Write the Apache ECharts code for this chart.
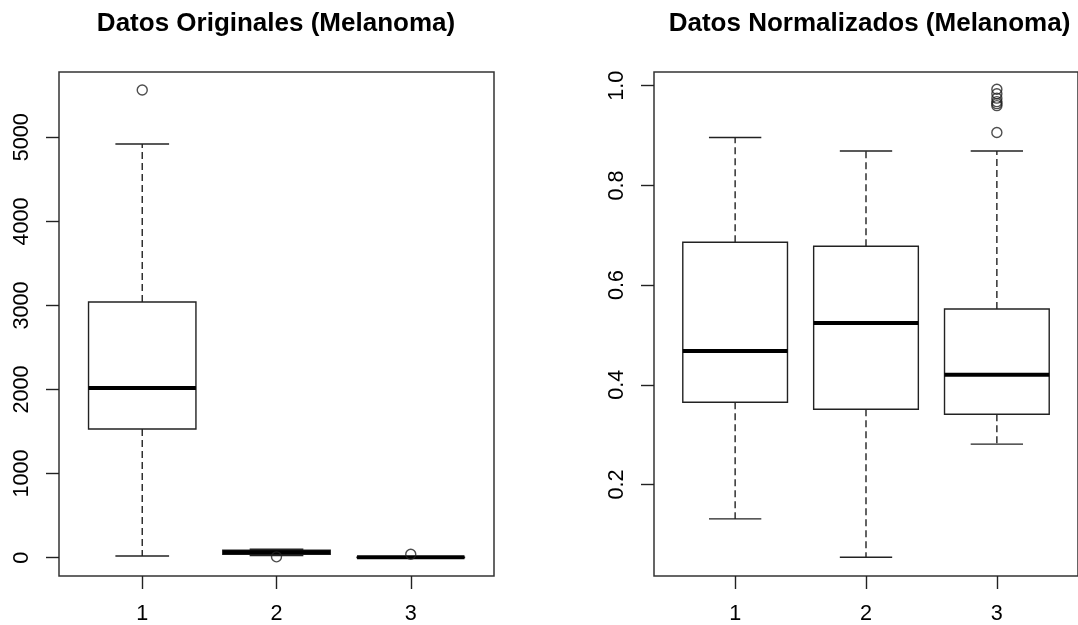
<!DOCTYPE html>
<html>
<head>
<meta charset="utf-8">
<title>Datos Melanoma</title>
<script src="https://cdn.jsdelivr.net/npm/echarts@6/dist/echarts.min.js"></script>
<style>
  html, body { margin: 0; padding: 0; background: #fff; }
  #chart { width: 1078px; height: 625px; }
</style>
</head>
<body>
<div id="chart"></div>
<script>
// Group labels on the x axis
const categories = ['1', '2', '3'];

// Box statistics per group: [lower whisker, Q1, median, Q3, upper whisker]
const originalStats = [
  [20, 1531, 2019, 3041, 4920],
  [25, 40, 64, 88, 100],
  [0, 2, 4, 6, 12]
];
// Outliers: [group, value]
const originalOutliers = [[1, 5563], [2, 10], [3, 40]];

const normalizedStats = [
  [0.131, 0.365, 0.468, 0.686, 0.896],
  [0.054, 0.351, 0.524, 0.678, 0.869],
  [0.281, 0.341, 0.420, 0.552, 0.869]
];
const normalizedOutliers = [
  [3, 0.993], [3, 0.984], [3, 0.975], [3, 0.968],
  [3, 0.964], [3, 0.960], [3, 0.906]
];

// Tick labels
const originalTicks = [0, 1000, 2000, 3000, 4000, 5000];
const normalizedTicks = [0.2, 0.4, 0.6, 0.8, 1.0];
const groupTicks = [1, 2, 3];

const FONT = 'Liberation Sans, Arial, sans-serif';
const LINE = '#222';

function boxData(stats) {
  return stats.map((s, i) => [i + 1].concat(s));
}

// Box with dashed whiskers, solid staples and a thick median line
function renderBox(params, api) {
  const x = api.value(0);
  const lo = api.value(1), q1 = api.value(2), med = api.value(3), q3 = api.value(4), hi = api.value(5);
  const halfBox = 0.4, halfCap = 0.2;
  const pTL = api.coord([x - halfBox, q3]);
  const pBR = api.coord([x + halfBox, q1]);
  const cx = api.coord([x, med])[0];
  const yMed = api.coord([x, med])[1];
  const yLo = api.coord([x, lo])[1];
  const yHi = api.coord([x, hi])[1];
  const capL = api.coord([x - halfCap, 0])[0];
  const capR = api.coord([x + halfCap, 0])[0];
  const solid = { stroke: LINE, lineWidth: 1.4, fill: null };
  const dashed = { stroke: LINE, lineWidth: 1.4, lineDash: [7, 4], fill: null };
  return {
    type: 'group',
    children: [
      { type: 'line', shape: { x1: cx, y1: pTL[1], x2: cx, y2: yHi }, style: dashed },
      { type: 'line', shape: { x1: cx, y1: pBR[1], x2: cx, y2: yLo }, style: dashed },
      { type: 'line', shape: { x1: capL, y1: yHi, x2: capR, y2: yHi }, style: solid },
      { type: 'line', shape: { x1: capL, y1: yLo, x2: capR, y2: yLo }, style: solid },
      { type: 'rect', shape: { x: pTL[0], y: pTL[1], width: pBR[0] - pTL[0], height: pBR[1] - pTL[1] },
        style: { stroke: LINE, lineWidth: 1.4, fill: '#fff' } },
      { type: 'line', shape: { x1: pTL[0], y1: yMed, x2: pBR[0], y2: yMed },
        style: { stroke: '#000', lineWidth: 4, fill: null } }
    ]
  };
}

function xAxisFor(gridIndex) {
  return {
    type: 'value', gridIndex: gridIndex, min: 0.38, max: 3.62,
    splitLine: { show: false },
    axisLine: { show: false, onZero: false },
    axisTick: { show: true, customValues: groupTicks, length: 13, lineStyle: { color: LINE, width: 1.4 } },
    axisLabel: {
      customValues: groupTicks, margin: 27,
      formatter: v => categories[Math.round(v) - 1],
      color: '#000', fontSize: 21.6, fontFamily: FONT
    }
  };
}

function yAxisFor(gridIndex, min, max, ticks, fmt) {
  return {
    type: 'value', gridIndex: gridIndex, min: min, max: max,
    splitLine: { show: false },
    axisLine: { show: false, onZero: false },
    axisTick: { show: true, customValues: ticks, length: 13, lineStyle: { color: LINE, width: 1.4 } },
    axisLabel: {
      customValues: ticks, margin: 26, rotate: 90, formatter: fmt,
      color: '#000', fontSize: 21.6, fontFamily: FONT
    }
  };
}

const chart = echarts.init(document.getElementById('chart'), null, { renderer: 'canvas' });

chart.setOption({
  backgroundColor: '#fff',
  animation: false,
  title: [
    { text: 'Datos Originales (Melanoma)', left: 271, top: 6, textAlign: 'center',
      textStyle: { fontSize: 26, fontWeight: 'bold', fontFamily: FONT, color: '#000' } },
    { text: 'Datos Normalizados (Melanoma)', left: 864.5, top: 6, textAlign: 'center',
      textStyle: { fontSize: 26, fontWeight: 'bold', fontFamily: FONT, color: '#000' } }
  ],
  grid: [
    { left: 59, top: 72, width: 435, height: 504, show: true, borderColor: '#333', borderWidth: 1.5, backgroundColor: 'transparent' },
    { left: 654, top: 72, width: 434, height: 504, show: true, borderColor: '#333', borderWidth: 1.5, backgroundColor: 'transparent' }
  ],
  xAxis: [xAxisFor(0), xAxisFor(1)],
  yAxis: [
    yAxisFor(0, -218, 5777, originalTicks, v => String(v)),
    yAxisFor(1, 0.0164, 1.0275, normalizedTicks, v => v.toFixed(1))
  ],
  series: [
    { type: 'custom', xAxisIndex: 0, yAxisIndex: 0, renderItem: renderBox,
      encode: { x: 0, y: [1, 2, 3, 4, 5] }, data: boxData(originalStats), z: 2 },
    { type: 'scatter', xAxisIndex: 0, yAxisIndex: 0, data: originalOutliers, symbol: 'circle', symbolSize: 10,
      itemStyle: { color: 'transparent', borderColor: LINE, borderWidth: 1.4 }, z: 3 },
    { type: 'custom', xAxisIndex: 1, yAxisIndex: 1, renderItem: renderBox,
      encode: { x: 0, y: [1, 2, 3, 4, 5] }, data: boxData(normalizedStats), z: 2 },
    { type: 'scatter', xAxisIndex: 1, yAxisIndex: 1, data: normalizedOutliers, symbol: 'circle', symbolSize: 10,
      itemStyle: { color: 'transparent', borderColor: LINE, borderWidth: 1.4 }, z: 3 }
  ]
});
</script>
</body>
</html>
